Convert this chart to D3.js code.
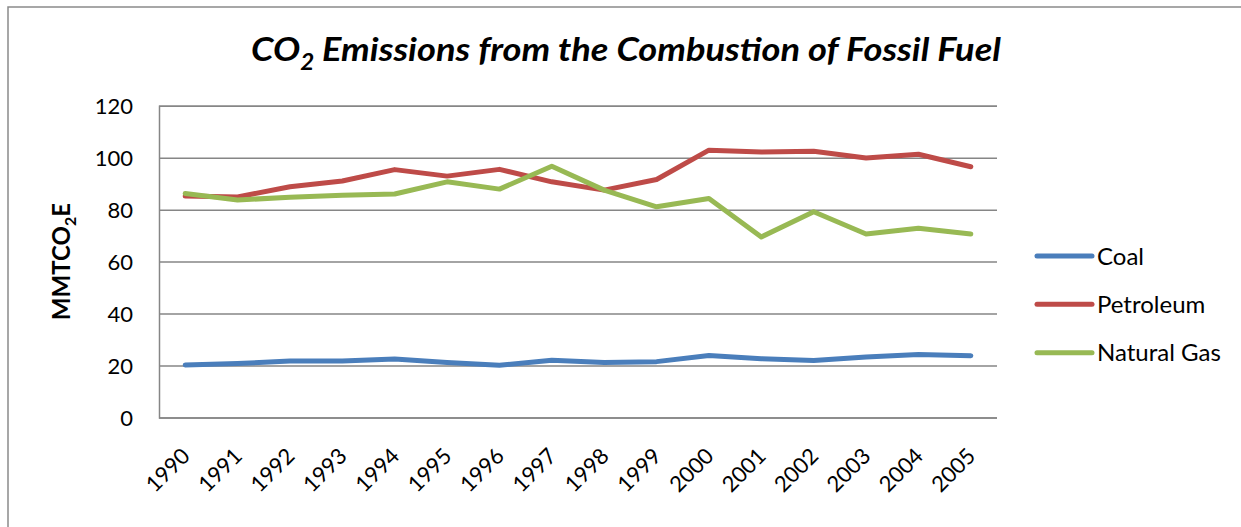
<!DOCTYPE html>
<html>
<head>
<meta charset="utf-8">
<script src="https://cdn.jsdelivr.net/npm/d3@7"></script>
<style>
  html, body { margin: 0; padding: 0; background: #fff; }
  svg { display: block; }
</style>
</head>
<body>
<svg id="chart" width="1241" height="527"></svg>
<script>
const years = ["1990","1991","1992","1993","1994","1995","1996","1997","1998","1999","2000","2001","2002","2003","2004","2005"];
const coal = [20.2, 20.8, 21.7, 21.7, 22.5, 21.2, 20.1, 22.0, 21.2, 21.5, 23.9, 22.6, 21.9, 23.3, 24.2, 23.8];
const petroleum = [85.2, 84.9, 88.8, 91.0, 95.4, 92.9, 95.5, 90.7, 87.5, 91.6, 102.9, 102.2, 102.5, 99.9, 101.3, 96.5];
const naturalGas = [86.2, 83.7, 84.8, 85.5, 86.0, 90.7, 87.9, 96.7, 87.5, 81.1, 84.3, 69.5, 79.2, 70.6, 72.8, 70.6];
const seriesNames = ["Coal", "Petroleum", "Natural Gas"];
const seriesColors = ["#4A7EBB", "#BE4B48", "#98B954"];
const yTicks = [0, 20, 40, 60, 80, 100, 120];

const svg = d3.select("#chart");
const W = 1241, H = 527;
const plot = {left: 159, right: 997, top: 105.7, bottom: 417.5};
const FONT = "Lato, 'Open Sans', sans-serif";

// outer chart border (left + top visible)
svg.append("path")
  .attr("d", `M8,${H} L8,7 L${W},7`)
  .attr("fill", "none").attr("stroke", "#8a8a8a").attr("stroke-width", 1.5);

const x = d3.scaleBand().domain(years).range([plot.left, plot.right]).padding(0);
const y = d3.scaleLinear().domain([0, 120]).range([plot.bottom, plot.top]);
const cx = d => x(d) + x.bandwidth() / 2;

// gridlines + y labels via axis
const yAxis = d3.axisLeft(y).tickValues(yTicks).tickSize(-(plot.right - plot.left)).tickPadding(26).tickFormat(d3.format("d"));
const gy = svg.append("g").attr("transform", `translate(${plot.left},0)`).call(yAxis);
gy.select(".domain").attr("stroke", "#868686").attr("stroke-width", 1.5);
gy.selectAll(".tick line").attr("stroke", "#868686").attr("stroke-width", 1.5);
gy.selectAll(".tick text").attr("font-family", FONT).attr("font-size", 22).attr("fill", "#000")
  .attr("dy", "0.36em");

// x labels
const xAxis = d3.axisBottom(x).tickSize(0).tickPadding(0);
const gx = svg.append("g").attr("transform", `translate(0,${plot.bottom})`).call(xAxis);
gx.select(".domain").remove();
gx.selectAll(".tick text")
  .attr("font-family", FONT).attr("font-size", 22).attr("fill", "#000")
  .attr("text-anchor", "end").attr("dy", null).attr("y", null)
  .attr("transform", "translate(6,40) rotate(-45)");

// lines
const allSeries = [coal, petroleum, naturalGas];
const line = d3.line().x((d, i) => cx(years[i])).y(d => y(d));
allSeries.forEach((vals, k) => {
  svg.append("path").datum(vals)
    .attr("d", line)
    .attr("fill", "none")
    .attr("stroke", seriesColors[k])
    .attr("stroke-width", 5)
    .attr("stroke-linejoin", "round")
    .attr("stroke-linecap", "round");
});

// legend
const legendY = d3.scalePoint().domain(seriesNames).range([256, 352.7]);
const lg = svg.append("g");
seriesNames.forEach((name, k) => {
  const yy = legendY(name);
  lg.append("line").attr("x1", 1037).attr("x2", 1092).attr("y1", yy).attr("y2", yy)
    .attr("stroke", seriesColors[k]).attr("stroke-width", 5).attr("stroke-linecap", "round");
  lg.append("text").attr("x", 1097).attr("y", yy).attr("dy", "0.36em")
    .attr("font-family", FONT).attr("font-size", 24).attr("fill", "#000").text(name);
});

// title
const title = svg.append("text")
  .attr("x", 626).attr("y", 61)
  .attr("text-anchor", "middle")
  .attr("font-family", FONT).attr("font-size", 33).attr("font-weight", "bold").attr("font-style", "italic")
  .attr("fill", "#000")
  .attr("textLength", 750).attr("lengthAdjust", "spacingAndGlyphs");
title.append("tspan").text("CO");
title.append("tspan").attr("font-size", 22).attr("dy", 9).text("2");
title.append("tspan").attr("dy", -9).text(" Emissions from the Combustion of Fossil Fuel");

// y axis title
const yt = svg.append("text")
  .attr("transform", `translate(70,${(plot.top + plot.bottom) / 2}) rotate(-90)`)
  .attr("text-anchor", "middle")
  .attr("font-family", FONT).attr("font-size", 24).attr("font-weight", "bold").attr("fill", "#000");
yt.append("tspan").text("MMTCO");
yt.append("tspan").attr("font-size", 16).attr("dy", 6).text("2");
yt.append("tspan").attr("dy", -6).text("E");
</script>
</body>
</html>
